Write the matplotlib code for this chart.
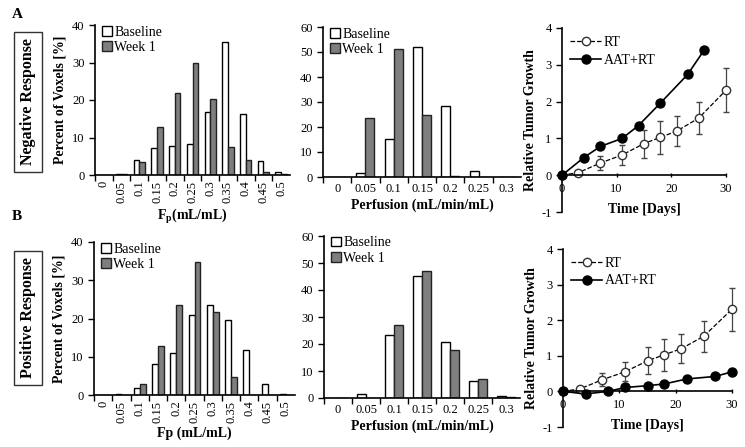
import numpy as np
import matplotlib
matplotlib.use("Agg")
import matplotlib.pyplot as plt

plt.rcParams['font.family'] = ['Liberation Serif', 'DejaVu Serif']
plt.rcParams['mathtext.fontset'] = 'custom'
plt.rcParams['mathtext.rm'] = 'Liberation Serif'
plt.rcParams['mathtext.bf'] = 'Liberation Serif:bold'
plt.rcParams['axes.unicode_minus'] = False

# histogram data
fp_bins = ['0', '0.05', '0.1', '0.15', '0.2', '0.25', '0.3', '0.35', '0.4', '0.45', '0.5']
perf_bins = ['0', '0.05', '0.1', '0.15', '0.2', '0.25', '0.3']

neg_fp_base = [0, 0.3, 3.9, 7.3, 7.7, 8.4, 16.9, 35.4, 16.4, 3.7, 0.8]
neg_fp_wk1 = [0, 0.2, 3.4, 12.8, 21.8, 29.9, 20.4, 7.5, 4.0, 0.7, 0.2]
neg_perf_base = [0, 1.7, 15.3, 52.0, 28.5, 2.5, 0]
neg_perf_wk1 = [0, 23.6, 51.1, 24.7, 0.4, 0, 0]

pos_fp_base = [0, 0.3, 1.7, 8.2, 11.0, 20.9, 23.5, 19.7, 11.7, 2.8, 0.3]
pos_fp_wk1 = [0, 0, 3.0, 12.9, 23.6, 34.7, 21.8, 4.7, 0, 0, 0]
pos_perf_base = [0, 1.5, 23.3, 45.3, 20.7, 6.2, 0.9]
pos_perf_wk1 = [0, 0, 26.9, 47.0, 17.8, 6.9, 0.5]

# tumor growth data
rt_days = [0, 3, 7, 11, 15, 18, 21, 25, 30]
rt_growth = [0, 0.07, 0.33, 0.55, 0.86, 1.03, 1.2, 1.55, 2.31]
rt_err = [0, 0, 0.19, 0.27, 0.38, 0.45, 0.4, 0.44, 0.6]

neg_aat_days = [0, 4, 7, 11, 14, 18, 23, 26]
neg_aat_growth = [0, 0.48, 0.78, 1.0, 1.35, 1.96, 2.74, 3.40]

pos_aat_days = [0, 4, 8, 11, 15, 18, 22, 27, 30]
pos_aat_growth = [0, -0.07, 0.0, 0.11, 0.16, 0.21, 0.35, 0.42, 0.55]

W, H = 745, 447
fig = plt.figure(figsize=(W / 100, H / 100), dpi=100)


def box(l, t, r, b):
    return fig.add_axes([l / W, 1 - b / H, (r - l) / W, (b - t) / H])


def hist(ax, labels, base, wk1, ymax, rotate, xlabel, ylabel=None):
    x = np.arange(len(labels))
    w = 0.32
    ax.bar(x - w / 2, base, w, color='white', edgecolor='black', linewidth=1.0)
    ax.bar(x + w / 2, wk1, w, color='#7f7f7f', edgecolor='#222222', linewidth=1.0)
    ax.set_xlim(-0.5, len(labels) - 0.5)
    ax.set_ylim(0, ymax)
    ax.set_yticks(np.arange(0, ymax + 1, 10))
    ax.set_xticks(x)
    ax.set_xticklabels(labels, rotation=90 if rotate else 0)
    ax.set_xticks(np.arange(len(labels)) - 0.5, minor=True)
    ax.tick_params(axis='x', which='major', length=0, labelsize=9, pad=4)
    ax.tick_params(axis='x', which='minor', length=4, width=1)
    ax.tick_params(axis='y', length=4, width=1, labelsize=9)
    for s in ['top', 'right']:
        ax.spines[s].set_visible(False)
    ax.spines['left'].set_linewidth(1.2)
    ax.spines['bottom'].set_linewidth(1.2)
    ax.set_xlabel(xlabel, fontweight='bold', fontsize=10, labelpad=3)
    if ylabel:
        ax.set_ylabel(ylabel, fontweight='bold', fontsize=10, labelpad=4)
    ax.legend(['Baseline', 'Week 1'], loc='upper left', frameon=False, fontsize=10,
              handlelength=0.7, handleheight=0.7, handletextpad=0.2,
              labelspacing=0.15, borderaxespad=0.1, bbox_to_anchor=(0.0, 1.04))


def growth(ax, aat_days, aat_growth):
    rt = ax.errorbar(rt_days, rt_growth, yerr=rt_err, fmt='--o', color='black', lw=0.9,
                     mfc='white', mec='#333333', ms=6, mew=1.0, ecolor='#444444',
                     elinewidth=0.9, capsize=2.5, clip_on=False)
    aat, = ax.plot(aat_days, aat_growth, '-o', color='black', lw=1.2, ms=6.5,
                   clip_on=False, zorder=3)
    ax.set_xlim(0, 30)
    ax.set_ylim(-1, 4)
    ax.set_xticks([0, 10, 20, 30])
    ax.set_yticks([-1, 0, 1, 2, 3, 4])
    ax.spines['bottom'].set_position(('data', 0))
    for s in ['top', 'right']:
        ax.spines[s].set_visible(False)
    ax.spines['left'].set_linewidth(1.2)
    ax.spines['bottom'].set_linewidth(1.2)
    ax.tick_params(axis='x', length=3, width=1, direction='inout', labelsize=9, pad=4)
    ax.tick_params(axis='y', length=4, width=1, labelsize=9)
    ax.set_xlabel('Time [Days]', fontweight='bold', fontsize=10, labelpad=6)
    ax.set_ylabel('Relative Tumor Growth', fontweight='bold', fontsize=10, labelpad=3)
    ax.legend([rt[0], aat], ['RT', 'AAT+RT'], loc='upper left', frameon=False, fontsize=10,
              handlelength=2.2, handletextpad=0.2, labelspacing=0.3, borderaxespad=0.2,
              bbox_to_anchor=(0.0, 1.0))


ax1 = box(95, 25, 290, 175)
hist(ax1, fp_bins, neg_fp_base, neg_fp_wk1, 40, True, r'F$_\mathbf{p}$(mL/mL)',
     'Percent of Voxels [%]')
ax2 = box(323, 27, 521, 177)
hist(ax2, perf_bins, neg_perf_base, neg_perf_wk1, 60, False, 'Perfusion (mL/min/mL)')
ax3 = box(562, 28, 726, 212)
growth(ax3, neg_aat_days, neg_aat_growth)

ax4 = box(94, 242, 295, 395)
hist(ax4, fp_bins, pos_fp_base, pos_fp_wk1, 40, True, 'Fp (mL/mL)',
     'Percent of Voxels [%]')
ax5 = box(324, 236, 520, 398)
hist(ax5, perf_bins, pos_perf_base, pos_perf_wk1, 60, False, 'Perfusion (mL/min/mL)')
ax6 = box(563, 249, 732, 427)
growth(ax6, pos_aat_days, pos_aat_growth)

fig.text(12 / W, 1 - 14 / H, 'A', fontweight='bold', fontsize=11, va='center')
fig.text(12 / W, 1 - 216 / H, 'B', fontweight='bold', fontsize=11, va='center')
fig.text(28 / W, 1 - 102 / H, 'Negative Response', rotation=90, fontweight='bold',
         fontsize=11.5, ha='center', va='center',
         bbox=dict(boxstyle='square,pad=0.4', fc='white', ec='#333333', lw=1))
fig.text(28 / W, 1 - 318 / H, 'Positive Response', rotation=90, fontweight='bold',
         fontsize=11.5, ha='center', va='center',
         bbox=dict(boxstyle='square,pad=0.4', fc='white', ec='#333333', lw=1))

fig.savefig('out.png', dpi=100)
